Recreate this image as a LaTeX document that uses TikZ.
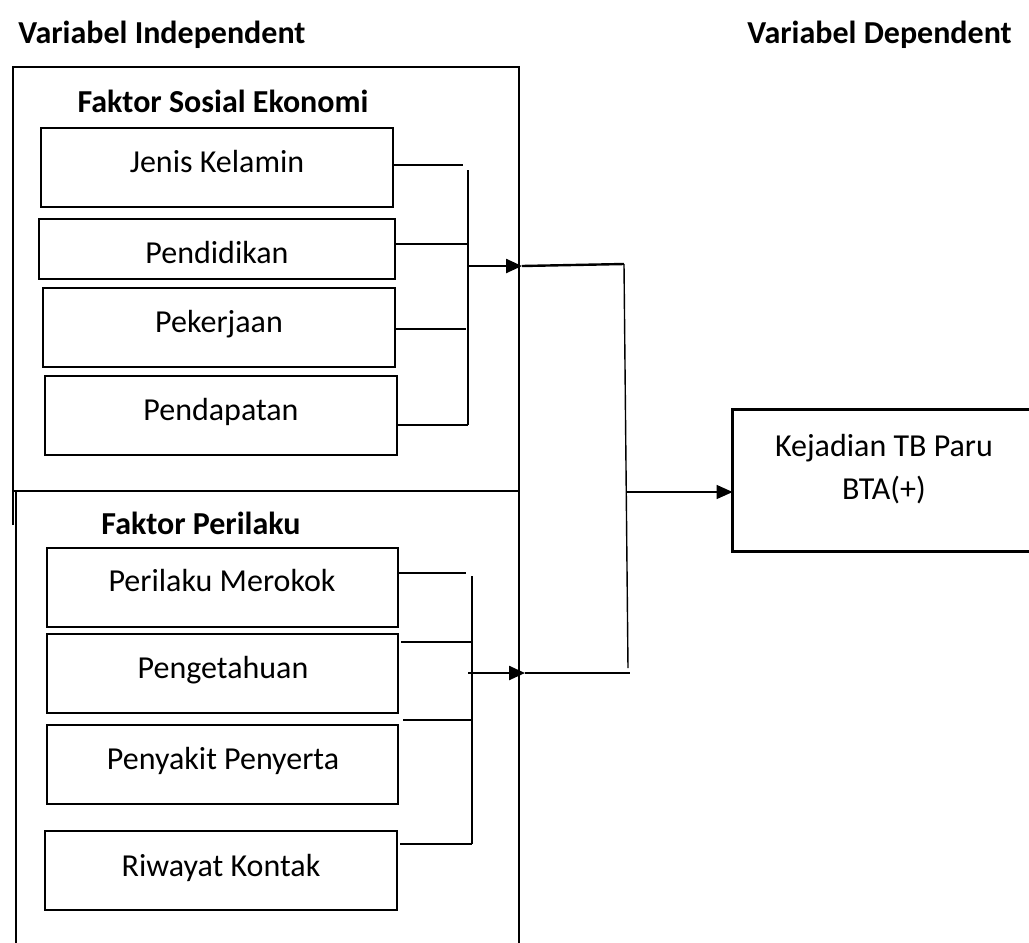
\documentclass[tikz,border=0pt]{standalone}
\usepackage{fontspec}
\setmainfont{Carlito}
\usetikzlibrary{arrows.meta}
\begin{document}
\begin{tikzpicture}[x=0.5pt,y=-0.5pt,
  txt/.style={font=\fontsize{16}{19}\selectfont, inner sep=0pt, anchor=base},
  ttl/.style={font=\bfseries\fontsize{16}{19}\selectfont, inner sep=0pt},
  boxn/.style={draw, line width=1.4pt, inner sep=0pt},
  conn/.style={line width=1.2pt},
  thin/.style={line width=0.7pt},
  arr/.style={-{Triangle[length=8pt,width=7pt]}}]
\useasboundingbox (0,0) rectangle (1029,943);
% headers
\node[ttl, anchor=base west] (vi) at (18,43) {Variabel Independent};
\node[ttl, anchor=base west] (vd) at (747,43) {Variabel Dependent};
% outer frames
\draw[line width=1.4pt] (13,525) -- (13,67) -- (519,67) -- (519,943);
\draw[line width=1.4pt] (13,491) -- (519,491);
\draw[line width=1.4pt] (16,491) -- (16,943);
\node[ttl, anchor=base] (t1) at (223,112) {Faktor Sosial Ekonomi};
\node[ttl, anchor=base] (t2) at (201,534) {Faktor Perilaku};
% top group boxes
\node[boxn, minimum width=176pt, minimum height=39.5pt] (jk) at (217,167.5) {};
\node[boxn, minimum width=178pt, minimum height=30pt] (pd) at (217,249) {};
\node[boxn, minimum width=176pt, minimum height=39.5pt] (pk) at (219,327.5) {};
\node[boxn, minimum width=176pt, minimum height=39.5pt] (pp) at (221,415.5) {};
\node[txt] at (217,172) {Jenis Kelamin};
\node[txt] at (217,263) {Pendidikan};
\node[txt] at (219,332) {Pekerjaan};
\node[txt] at (221,420) {Pendapatan};
% bottom group boxes
\node[boxn, minimum width=175.5pt, minimum height=39.5pt] (pm) at (222.5,587.5) {};
\node[boxn, minimum width=175.5pt, minimum height=39.5pt] (pg) at (222.5,673.5) {};
\node[boxn, minimum width=175.5pt, minimum height=39.5pt] (ps) at (222.5,764.5) {};
\node[boxn, minimum width=176pt, minimum height=39.5pt] (rk) at (221,870.5) {};
\node[txt] at (222,591) {Perilaku Merokok};
\node[txt] at (223,678) {Pengetahuan};
\node[txt] at (223,769) {Penyakit Penyerta};
\node[txt] at (221,876) {Riwayat Kontak};
% dependent box
\node[inner sep=0pt, minimum width=160pt, minimum height=70.5pt] (kj) at (893,480.5) {};
\draw[line width=1.4pt] (kj.north east) -- (kj.north west) -- (kj.south west) -- (kj.south east);
\node[txt] at (884,456) {Kejadian TB Paru};
\node[txt] at (884,499) {BTA(+)};
% top bracket
\coordinate (a1) at (463,165);
\coordinate (a2) at (468,244);
\coordinate (a3) at (466,329);
\coordinate (a4) at (468,425);
\coordinate (at) at (468,170);
\coordinate (am) at (468,266);
\coordinate (ae) at (522,266);
\draw[conn] (a1 -| jk.east) -- (a1);
\draw[conn] (a2 -| pd.east) -- (a2);
\draw[conn] (a3 -| pk.east) -- (a3);
\draw[conn] (a4 -| pp.east) -- (a4);
\draw[conn] (at) -- (a4);
\draw[conn, arr] (am) -- (ae);
% bottom bracket
\coordinate (b1) at (466,573);
\coordinate (b2) at (472,642);
\coordinate (b3) at (472,720);
\coordinate (b4) at (472,844);
\coordinate (bt) at (472,576);
\coordinate (bm) at (468,673);
\coordinate (be) at (525,673);
\draw[conn] (b1 -| pm.east) -- (b1);
\draw[conn] ([xshift=1pt]b2 -| pg.east) -- (b2);
\draw[conn] ([xshift=2pt]b3 -| ps.east) -- (b3);
\draw[conn] ([xshift=1pt]b4 -| rk.east) -- (b4);
\draw[conn] (bt) -- (b4);
\draw[conn, arr] (bm) -- (be);
% right connector
\coordinate (r1) at (624,264);
\coordinate (r2) at (628,668);
\coordinate (r3) at (630,673);
\coordinate (rm) at (627,492);
\draw[conn] (ae) -- (r1);
\draw[thin] (r1) -- (r2);
\draw[conn] (be) -- (r3);
\draw[thin, arr] (rm) -- (rm -| kj.west);
\end{tikzpicture}
\end{document}
